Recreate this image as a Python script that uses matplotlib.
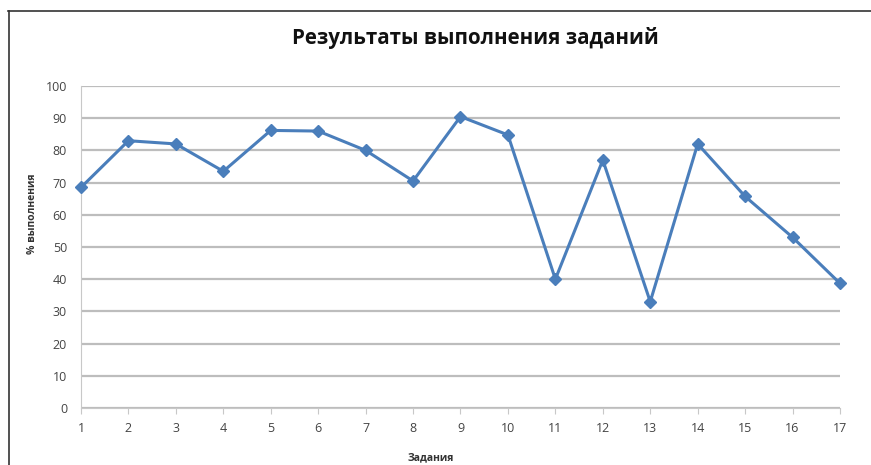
import matplotlib
matplotlib.use("Agg")
import matplotlib.pyplot as plt
from matplotlib.lines import Line2D

plt.rcParams['font.family'] = ['Open Sans', 'DejaVu Sans']

tasks = list(range(1, 18))
percent_done = [68.5, 83, 82, 73.5, 86.2, 86, 80, 70.5, 90.5, 84.8, 40, 77, 33, 82, 65.7, 53, 38.7]
y_ticks = list(range(0, 101, 10))

fig = plt.figure(figsize=(8.71, 4.65), dpi=100)
ax = fig.add_axes([0.093, 0.1226, 0.8714, 0.6925])

ax.plot(tasks, percent_done, color='#4a7ebb', linewidth=2.2, marker='D',
        markersize=6.5, markerfacecolor='#4a7ebb', markeredgecolor='#4a7ebb',
        zorder=3, clip_on=False)

ax.set_xlim(1, 17)
ax.set_ylim(0, 100)
ax.set_xticks(tasks)
ax.set_yticks(y_ticks)
ax.grid(axis='y', color='#bdbdbd', linewidth=1.6)
ax.set_axisbelow(True)
for s in ['top', 'right']:
    ax.spines[s].set_visible(False)
ax.spines['left'].set_color('#c8c8c8')
ax.spines['bottom'].set_color('#c8c8c8')
ax.tick_params(axis='y', length=0, pad=10, labelsize=9, labelcolor='#444444')
ax.tick_params(axis='x', length=4, direction='out', color='#c8c8c8', pad=6, labelsize=9, labelcolor='#444444')

fig.text(0.546, 0.918, 'Результаты выполнения заданий', ha='center', va='center',
         fontsize=14.8, fontweight='bold', color='#111111')
fig.text(0.037, 0.54, '% выполнения', ha='center', va='center', rotation=90,
         fontsize=7.5, fontweight='bold', color='#333333')
fig.text(0.494, 0.015, 'Задания', ha='center', va='center',
         fontsize=7.5, fontweight='bold', color='#333333')

# frame lines of the scanned chart box
fig.add_artist(Line2D([0.009, 1.0], [0.977, 0.977], transform=fig.transFigure, color='#333333', linewidth=1.2))
fig.add_artist(Line2D([0.0103, 0.0103], [0.0, 0.977], transform=fig.transFigure, color='#333333', linewidth=1.2))

fig.savefig("out.png", dpi=100)
